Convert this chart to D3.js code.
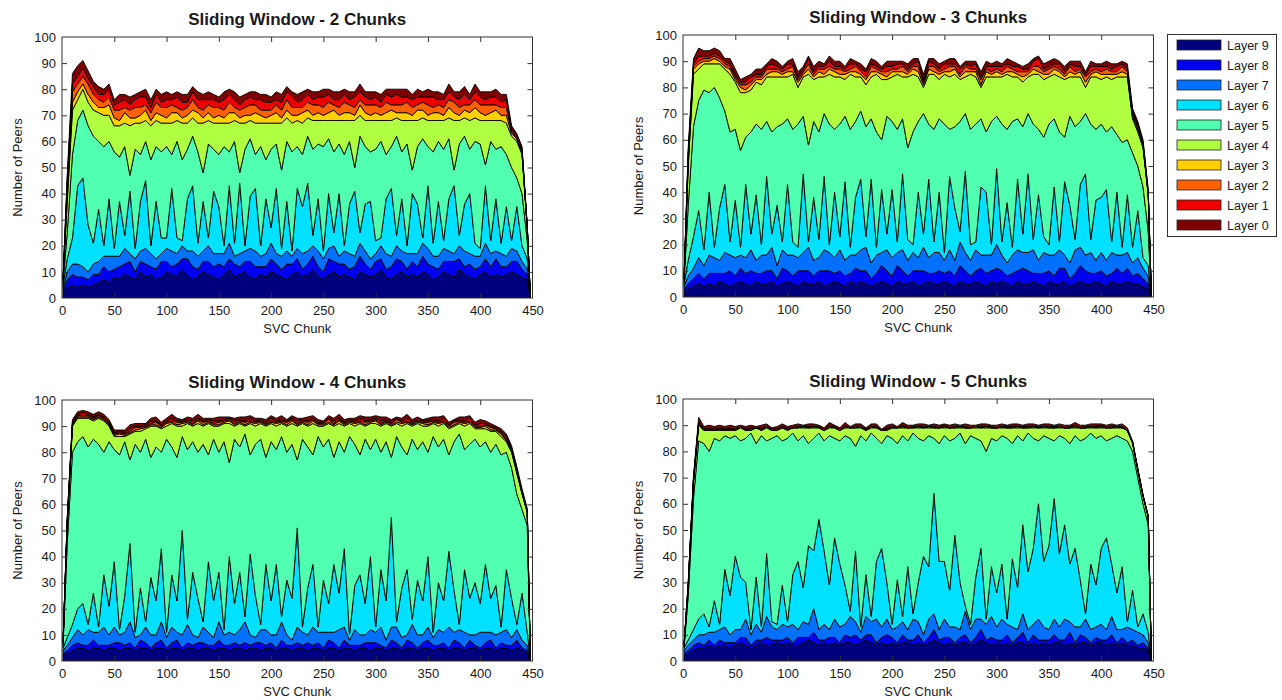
<!DOCTYPE html>
<html>
<head>
<meta charset="utf-8">
<script src="https://cdn.jsdelivr.net/npm/d3@7"></script>
<style>
  body { margin: 0; background: #fff; }
  svg { display: block; }
  text { font-family: "Liberation Sans", Arial, sans-serif; fill: #1a1a1a; }
</style>
</head>
<body>
<svg id="chart" width="1282" height="700"></svg>
<script>
// SVC chunk index of each sample
const chunks = [1,5,10,15,20,25,30,35,40,45,
  50,55,60,65,70,75,80,85,90,95,
  100,105,110,115,120,125,130,135,140,145,
  150,155,160,165,170,175,180,185,190,195,
  200,205,210,215,220,225,230,235,240,245,
  250,255,260,265,270,275,280,285,290,295,
  300,305,310,315,320,325,330,335,340,345,
  350,355,360,365,370,375,380,385,390,395,
  400,405,410,415,420,425,430,435,440,445,448];

const layerNames = ["Layer 9","Layer 8","Layer 7","Layer 6","Layer 5","Layer 4","Layer 3","Layer 2","Layer 1","Layer 0"];
const layerColors = ["#00007f","#0000f0","#0070ff","#00e0ff","#50ffb0","#b0ff40","#ffd000","#ff6000","#ee0000","#7f0000"];
const yTicks = [0,10,20,30,40,50,60,70,80,90,100];
const xTicks = [0,50,100,150,200,250,300,350,400,450];
const panelTitles = ["Sliding Window - 2 Chunks","Sliding Window - 3 Chunks","Sliding Window - 4 Chunks","Sliding Window - 5 Chunks"];

// ---- Sliding window of 2 chunks: peers per layer ----
const win2Layer9 = [2,4,5,4,5,4,5,6,7,6, 8,7,9,8,7,10,8,9,7,8, 10,9,8,11,9,7,8,10,9,8, 7,9,11,8,9,10,8,7,9,8, 10,9,8,7,9,10,8,9,11,8, 7,9,10,8,9,8,7,10,9,8, 9,11,8,7,9,10,8,9,8,10, 9,7,8,10,9,8,11,9,8,7, 9,10,8,9,8,9,10,9,8,7, 0];
const win2Layer8 = [1,3,4,4,3,3,4,3,5,4, 3,5,4,6,3,4,5,3,4,6, 4,3,5,4,6,5,3,4,5,4, 6,3,4,5,3,4,6,5,3,4, 5,4,3,6,4,5,3,4,5,4, 3,6,4,5,4,3,5,6,4,3, 5,4,3,5,6,4,3,5,4,6, 4,5,3,4,5,6,4,3,5,4, 3,5,4,6,4,3,4,5,3,2, 0];
const win2Layer7 = [1,3,4,5,4,3,4,5,4,6, 5,4,6,3,5,4,6,5,4,3, 5,6,4,5,3,6,5,4,6,5, 4,5,6,3,5,4,5,6,4,5, 6,4,5,5,3,4,6,5,4,6, 5,4,6,3,5,6,4,5,5,4, 3,5,6,4,5,4,6,3,5,5, 6,4,5,5,4,3,5,6,4,5, 4,6,5,3,5,4,5,4,3,2, 0];
const win2Layer6 = [1,5,10,30,34,18,8,20,4,22, 3,21,5,24,4,19,26,3,22,6, 4,24,6,2,20,25,5,19,3,24, 18,3,22,5,27,2,20,24,4,21, 6,25,3,19,2,23,18,26,4,20, 3,21,5,24,2,19,25,4,18,22, 5,3,21,26,4,20,3,23,19,2, 24,5,21,3,20,26,4,18,23,5, 3,22,5,20,4,19,3,17,6,4, 0];
const win2Layer5 = [1,10,32,25,26,38,41,26,38,22, 37,17,34,6,38,18,15,33,21,33, 35,13,37,31,19,19,35,11,36,16, 20,38,13,39,4,37,22,13,38,15, 30,17,30,23,38,16,20,18,33,21, 40,21,31,19,35,24,9,37,22,19, 35,37,17,16,38,18,39,9,22,38, 15,35,23,35,23,6,35,26,17,39, 40,8,38,19,37,20,28,11,20,7, 0];
const win2Layer4 = [1,12,17,8,8,9,10,11,12,10, 10,12,9,19,10,12,8,13,10,11, 9,12,8,14,10,7,11,19,9,10, 12,9,11,8,19,10,7,12,9,14, 10,8,18,9,11,10,12,7,11,9, 10,7,12,9,13,8,18,8,10,12, 11,8,13,10,7,12,9,19,10,8, 10,12,8,11,8,19,9,7,11,9, 9,17,8,11,10,12,12,14,15,5, 0];
const win2Layer3 = [0,3,3,3,2,3,3,2,3,4, 3,2,4,3,2,3,4,2,3,3, 2,4,3,2,3,3,4,2,3,2, 3,2,4,3,2,3,2,4,3,2, 3,4,2,3,3,2,4,3,2,3, 2,3,4,2,3,3,2,4,3,2, 3,2,3,4,2,3,3,2,4,3, 2,3,3,2,4,3,2,3,3,4, 3,2,3,4,2,3,1,1,1,0, 0];
const win2Layer2 = [0,3,4,3,3,4,3,3,2,3, 3,4,2,3,4,3,2,3,4,3, 4,3,2,3,3,4,2,3,3,4, 3,3,4,2,3,3,4,3,2,3, 2,3,3,4,3,3,2,3,4,3, 3,4,2,3,4,3,3,2,3,4, 3,3,4,2,3,3,4,3,2,3, 4,2,3,3,3,4,3,2,3,3, 3,4,3,2,3,3,1,0,0,0, 0];
const win2Layer1 = [0,2,3,3,3,2,3,2,3,3, 2,3,3,2,3,4,3,2,3,2, 3,2,4,3,2,3,3,4,2,3, 2,4,3,3,2,3,3,2,4,3, 3,2,3,3,4,2,3,3,2,3, 4,3,2,3,3,2,4,3,3,2, 3,2,3,3,4,3,2,3,3,2, 3,4,2,3,3,2,3,4,2,3, 3,2,3,3,2,3,1,1,1,0, 0];
const win2Layer0 = [0,2,4,4,3,3,2,3,2,2, 2,3,2,3,2,2,3,3,2,3, 3,2,2,3,3,2,3,2,3,2, 2,3,2,3,3,2,2,3,2,3, 2,3,3,2,2,3,3,2,3,2, 3,2,3,3,2,3,2,3,2,3, 2,3,2,3,2,3,3,2,3,2, 3,2,3,2,3,2,3,3,2,3, 2,3,2,3,3,2,1,1,1,1, 0];

// ---- Sliding window of 3 chunks ----
const win3Layer9 = [2,3,4,5,4,5,4,6,5,4, 5,6,5,4,6,5,5,6,4,5, 6,5,4,6,5,5,6,4,5,6, 5,4,6,5,6,5,4,5,6,5, 4,6,5,5,6,4,5,6,5,5, 6,5,4,6,5,5,6,5,4,6, 5,6,5,4,6,5,5,6,5,4, 6,5,5,6,4,5,6,5,5,6, 5,4,6,5,5,6,5,5,4,3, 0];
const win3Layer8 = [1,2,3,4,3,4,5,3,4,6, 3,5,4,6,3,4,5,4,3,6, 4,3,6,4,5,3,4,6,5,3, 5,4,3,6,4,5,3,4,6,5, 4,6,5,3,4,6,5,3,4,5, 3,5,4,6,5,3,4,6,5,4, 6,4,3,5,4,6,5,3,4,5, 4,3,6,5,3,4,6,5,4,3, 5,4,3,6,4,5,3,4,3,2, 0];
const win3Layer7 = [1,3,4,6,5,7,6,5,8,6, 7,5,6,8,5,7,6,9,5,7, 6,8,5,7,9,6,5,8,7,6, 8,6,7,5,8,9,6,7,5,8, 7,5,8,6,7,5,9,6,8,7, 5,8,6,9,7,6,8,5,7,6, 9,6,5,7,8,6,7,9,5,8, 6,8,7,5,6,9,7,6,8,5, 7,6,8,5,7,6,5,6,4,3, 0];
const win3Layer6 = [1,6,12,18,6,24,4,20,26,5, 22,3,28,6,25,4,30,5,23,3, 27,5,4,30,2,24,7,28,3,25, 5,30,3,22,27,4,32,3,24,6, 26,4,29,8,3,25,5,30,4,23, 3,28,20,4,31,6,3,26,24,4, 29,5,23,3,27,7,30,4,25,6, 4,26,3,28,22,4,24,31,5,23, 21,27,4,24,3,22,6,18,4,4, 0];
const win3Layer5 = [1,21,42,42,61,38,61,42,28,42, 27,37,18,39,27,44,21,39,30,45, 25,43,47,22,37,29,41,24,46,24, 43,25,45,29,26,42,23,44,19,45, 26,43,21,35,43,27,46,21,43,28, 49,18,31,42,22,44,45,26,23,47, 20,45,28,48,23,41,23,44,25,38, 46,26,42,17,34,43,24,23,44,27, 28,22,44,22,40,21,36,17,27,13, 0];
const win3Layer4 = [1,15,20,12,10,11,9,13,16,22, 18,22,17,16,16,17,17,21,19,18, 16,21,14,15,27,16,21,14,19,20, 18,14,21,17,13,16,16,22,23,14, 17,21,16,27,22,17,10,19,21,15, 19,20,20,16,14,21,18,12,21,17, 15,18,21,17,16,17,14,19,21,22, 18,17,21,22,15,19,17,10,18,20, 17,21,18,22,25,24,13,13,15,14, 0];
const win3Layer3 = [0,2,2,2,1,1,2,1,1,2, 1,2,1,2,1,2,1,2,2,1, 2,1,2,1,2,1,2,1,2,2, 1,2,1,2,1,2,2,1,2,1, 2,1,2,1,2,2,1,2,1,2, 1,2,2,1,2,1,2,1,2,1, 2,1,1,2,1,2,1,2,1,2, 1,2,2,1,2,1,2,2,1,2, 2,1,2,1,2,1,1,1,1,0, 0];
const win3Layer2 = [0,2,1,1,1,1,1,1,1,1, 1,1,2,1,1,1,2,1,1,1, 1,2,1,1,2,1,1,2,1,1, 2,1,1,2,1,1,2,1,1,2, 1,1,2,1,1,2,1,1,2,1, 1,2,1,1,2,1,1,2,1,1, 1,1,2,1,1,2,1,1,2,1, 2,1,1,1,2,1,1,2,1,1, 1,2,1,1,2,1,1,1,0,0, 0];
const win3Layer1 = [0,1,1,2,1,1,1,1,1,1, 1,1,1,2,1,1,1,2,1,1, 2,1,1,1,2,1,1,1,2,1, 1,1,2,1,1,2,1,1,1,2, 1,2,1,1,1,2,1,2,1,1, 2,1,1,2,1,1,2,1,1,2, 1,2,1,1,2,1,1,2,3,1, 1,1,2,1,1,2,1,1,2,1, 2,1,1,2,1,1,1,1,1,1, 0];
const win3Layer0 = [0,2,2,3,2,2,2,2,1,2, 2,1,2,1,2,2,1,2,2,1, 1,2,2,1,1,2,2,1,2,2, 2,1,2,1,2,1,2,2,1,2, 2,1,1,2,2,1,2,1,2,2, 1,2,2,1,1,2,1,2,2,1, 2,1,2,2,1,1,2,1,1,2, 2,2,1,2,1,2,2,1,2,1, 1,2,2,1,1,2,1,1,1,1, 0];

// ---- Sliding window of 4 chunks ----
const win4Layer9 = [2,3,4,5,5,4,5,5,4,5, 5,4,5,5,4,5,5,4,5,5, 4,5,5,4,5,5,4,5,5,4, 5,5,4,5,5,4,5,5,4,5, 5,4,5,5,4,5,5,4,5,5, 4,5,5,4,5,5,4,5,5,4, 5,5,4,5,5,4,5,5,4,5, 5,4,5,5,4,5,5,4,5,5, 4,5,5,4,5,5,4,5,4,3, 0];
const win4Layer8 = [1,1,2,2,1,2,3,1,2,1, 2,3,1,2,1,3,2,1,2,3, 1,2,3,1,2,1,3,2,1,2, 3,1,2,2,1,3,1,2,3,1, 2,1,3,1,2,2,1,3,1,2, 1,3,2,1,3,1,2,1,2,3, 2,1,1,3,2,1,3,2,1,2, 3,2,1,2,1,3,2,1,3,1, 1,2,3,1,2,1,2,3,1,1, 0];
const win4Layer7 = [1,2,3,5,4,6,3,5,7,4, 6,3,5,8,4,2,6,5,3,7, 4,6,3,5,7,4,2,6,5,3, 7,4,5,3,6,8,4,2,5,6, 3,5,7,4,2,6,5,3,7,4, 6,3,4,7,5,2,6,4,3,5, 4,7,3,5,6,4,2,7,5,3, 5,3,6,4,8,3,5,6,2,4, 6,4,3,5,4,6,3,4,3,2, 0];
const win4Layer6 = [1,3,5,8,12,2,15,2,20,11, 25,2,14,30,2,18,2,22,13,28, 2,20,12,40,2,24,15,2,27,14, 19,2,29,12,22,2,31,16,2,25, 13,27,2,21,16,38,2,18,24,2, 20,11,26,14,30,2,17,23,12,28, 2,22,15,42,2,19,25,2,21,13, 27,2,18,12,29,16,2,24,14,20, 11,26,13,19,2,23,15,2,18,5, 0];
const win4Layer5 = [1,36,66,64,64,68,59,70,47,63, 43,67,59,32,72,52,70,46,59,37, 74,49,55,36,65,50,56,68,41,62, 46,72,36,63,48,70,38,58,71,41, 61,44,69,49,59,26,72,54,42,73, 51,63,41,58,37,76,54,46,63,41, 72,45,61,23,71,54,44,69,50,61, 40,75,52,62,37,57,73,46,59,55, 60,47,56,54,66,45,50,50,32,41, 0];
const win4Layer4 = [1,7,10,9,7,11,7,10,12,6, 5,7,2,10,5,8,4,12,8,9, 5,9,12,4,10,6,11,7,12,5, 10,7,15,5,9,3,12,7,6,12, 7,9,5,10,8,13,6,8,12,4, 8,6,12,7,10,5,7,12,5,10, 6,10,7,12,5,8,12,5,10,6, 10,5,8,6,10,6,4,9,8,4, 7,5,8,5,7,4,6,8,6,5, 0];
const win4Layer3 = [0,1,0.5,0.5,0.5,0.5,0.5,0.5,0.5,0.5, 0.5,1,0.5,0.5,0.5,1,0.5,0.5,0.5,0.5, 1,0.5,0.5,1,0.5,0.5,1,0.5,0.5,0.5, 0.5,0.5,1,0.5,0.5,0.5,0.5,1,0.5,0.5, 0.5,1,0.5,0.5,1,0.5,0.5,0.5,1,0.5, 0.5,0.5,0.5,1,0.5,0.5,1,0.5,0.5,0.5, 1,0.5,0.5,0.5,0.5,1,0.5,0.5,0.5,1, 0.5,0.5,1,0.5,0.5,0.5,0.5,1,0.5,0.5, 0.5,1,0.5,0.5,1,0.5,0.5,0.5,0.5,0, 0];
const win4Layer2 = [0,0.5,0.5,0.5,0.5,0.5,0.5,0.5,0.5,0.5, 0.5,0.5,0.5,0.5,1,0.5,0.5,0.5,1,0.5, 0.5,0.5,1,0.5,0.5,0.5,0.5,1,0.5,0.5, 1,0.5,0.5,0.5,0.5,1,0.5,0.5,0.5,0.5, 0.5,0.5,0.5,1,0.5,0.5,0.5,1,0.5,0.5, 0.5,1,0.5,0.5,0.5,0.5,0.5,0.5,1,0.5, 0.5,0.5,0.5,0.5,1,0.5,0.5,0.5,0.5,0.5, 1,0.5,0.5,0.5,0.5,1,0.5,0.5,0.5,0.5, 0.5,0.5,1,0.5,0.5,0.5,0.5,0.5,0,0, 0];
const win4Layer1 = [0,0.5,0.5,0.5,1,0.5,0.5,0.5,0.5,0.5, 0.5,0.5,0.5,1,0.5,0.5,0.5,1,0.5,0.5, 0.5,1,0.5,0.5,0.5,1,0.5,0.5,0.5,1, 0.5,0.5,0.5,1,0.5,0.5,1,0.5,0.5,0.5, 1,0.5,0.5,0.5,0.5,1,0.5,0.5,0.5,0.5, 0.5,0.5,1,0.5,0.5,0.5,0.5,1,0.5,0.5, 0.5,1,0.5,0.5,0.5,0.5,1,0.5,0.5,0.5, 0.5,0.5,0.5,1,0.5,0.5,0.5,0.5,1,0.5, 1,0.5,0.5,0.5,0.5,1,0.5,0.5,0.5,0.5, 0];
const win4Layer0 = [0,1,1,1,1,1,1,1,1,1, 1,0.5,1,1.5,1,1,0.5,1,1.5,1, 1,1.5,1,0.5,1,1,1.5,1,0.5,1, 1.5,1,0.5,1,1,1.5,1,1,0.5,1, 1,1,1.5,0.5,1,1,0.5,1.5,1,1, 0.5,1,1,1.5,1,0.5,1,1,1.5,1, 1,1.5,1,1,0.5,1,1.5,1,1,0.5, 1,1,1.5,1,1,0.5,1,1.5,1,1, 1.5,1,1,0.5,1,1,1,1,1,1, 0];

// ---- Sliding window of 5 chunks ----
const win5Layer9 = [2,3,4,5,5,6,5,6,6,5, 6,7,6,5,6,7,6,6,7,6, 7,6,6,7,8,7,6,7,6,7, 6,7,7,6,7,8,7,6,7,6, 7,6,7,7,6,7,6,7,8,7, 6,7,6,7,7,6,7,8,7,6, 7,6,7,6,7,7,6,7,6,7, 6,7,7,6,7,6,7,7,6,7, 7,6,7,6,7,6,6,5,5,4, 0];
const win5Layer8 = [1,1,2,2,1,2,1,2,1,2, 1,2,3,1,2,1,3,2,1,2, 2,1,3,2,1,4,2,1,3,2, 1,3,2,4,1,2,3,1,2,4, 2,1,3,1,2,3,1,2,4,1, 3,2,1,2,3,1,2,4,1,3, 1,2,3,1,2,4,1,3,2,1, 2,3,1,2,4,1,3,2,1,2, 1,2,3,1,2,1,2,1,2,1, 0];
const win5Layer7 = [1,2,2,3,4,3,5,4,6,3, 5,3,7,4,6,3,8,5,4,6, 4,7,3,6,5,9,4,6,3,7, 6,4,8,5,3,7,5,9,4,6, 3,6,5,4,8,5,3,7,6,4, 7,4,6,3,9,5,7,4,6,8, 5,8,4,6,3,7,5,4,8,5, 4,6,5,8,4,6,3,7,5,4, 6,4,7,5,3,6,4,5,3,2, 0];
const win5Layer6 = [1,2,4,6,8,2,12,2,22,15, 28,20,14,2,18,2,24,2,2,15, 2,19,26,13,30,22,42,28,17,31, 24,15,2,27,2,16,2,22,30,14, 2,18,2,24,2,15,30,20,46,26, 22,14,35,18,2,2,16,27,2,19, 13,21,2,26,16,34,22,29,44,25, 32,46,28,36,22,30,18,2,25,16, 29,35,20,14,24,2,15,2,8,4, 0];
const win5Layer5 = [0,17,50,68,65,67,62,70,51,60, 46,52,55,75,51,73,43,70,72,55, 70,54,46,58,39,43,33,42,57,38, 47,57,66,40,73,51,70,47,40,56, 71,52,69,48,69,55,44,50,21,45, 48,57,37,57,62,72,53,41,64,49, 58,49,69,44,58,32,53,42,24,48, 41,22,45,33,46,43,53,67,50,56, 43,37,48,60,49,69,53,57,42,41, 0];
const win5Layer4 = [1,3,6,6,5,8,3,4,2,3, 2,5,3,1,6,2,5,3,2,5, 3,2,5,3,6,4,2,4,3,4, 4,3,4,7,3,4,2,4,5,2, 4,6,3,5,2,4,5,3,4,6, 3,5,4,2,6,3,4,5,9,4, 5,3,4,6,3,5,2,4,5,3, 4,5,3,4,6,3,5,4,2,4, 3,5,4,3,4,4,3,3,3,3, 0];
const win5Layer3 = [0,0.5,0.5,0.5,0,0.5,0,0.5,0,0.5, 0,0.5,0,0.5,0,0,0.5,0,0.5,0, 0.5,0,0,0.5,0,0.5,0,0,0.5,0, 0,0.5,0,0,0.5,0,0.5,0,0,0.5, 0,0,0.5,0,0,0.5,0,0.5,0,0, 0.5,0,0,0.5,0,0,0.5,0,0.5,0, 0,0.5,0,0,0.5,0,0,0.5,0,0.5, 0,0,0.5,0,0,0.5,0,0,0.5,0, 0.5,0,0,0.5,0,0,0.5,0,0,0, 0];
const win5Layer2 = [0,0.5,0.5,0.5,0.5,0,0.5,0,0.5,0, 0.5,0,0,0.5,0,0.5,0,0,0,0.5, 0,0,0.5,0,0,0,0.5,0,0,0.5, 0,0,0,0.5,0,0,0,0.5,0,0, 0.5,0,0,0,0.5,0,0,0,0.5,0, 0,0,0.5,0,0,0,0,0.5,0,0, 0,0,0,0.5,0,0,0.5,0,0,0, 0.5,0,0,0,0,0.5,0,0,0,0.5, 0,0,0.5,0,0,0,0,0,0,0, 0];
const win5Layer1 = [0,0.5,0.5,0.5,0,0.5,0,0.5,0,0.5, 0,0,0.5,0,0,0.5,0,0.5,0,0, 0.5,0,0,0,0.5,0,0,0,0.5,0, 0,0.5,0,0,0,0.5,0,0,0,0.5, 0,0,0.5,0,0,0,0.5,0,0,0, 0.5,0,0,0,0.5,0,0,0,0,0.5, 0,0,0.5,0,0,0.5,0,0,0.5,0, 0,0.5,0,0,0.5,0,0,0.5,0,0, 0.5,0,0,0,0.5,0,0,0,0,0, 0];
const win5Layer0 = [0,0.5,1,1.5,1,1,1,1,1,1, 1,0.5,1,1,0.5,1,1,0.5,1,1, 0.5,1,1,0.5,1,1,0.5,1,1,0.5, 1,1,0.5,1,1,0.5,1,1,0.5,1, 1,0.5,1,1,0.5,1,1,0.5,1,1, 0.5,1,1,0.5,1,1,0.5,1,1,0.5, 1,1,0.5,1,1,0.5,1,1,0.5,1, 1,0.5,1,1,0.5,1,1,0.5,1,1, 0.5,1,1,0.5,1,1,0.5,0.5,0.5,0.5, 0];

// Layers of each panel, ordered bottom (Layer 9) to top (Layer 0)
const panelLayers = [
  [win2Layer9,win2Layer8,win2Layer7,win2Layer6,win2Layer5,win2Layer4,win2Layer3,win2Layer2,win2Layer1,win2Layer0],
  [win3Layer9,win3Layer8,win3Layer7,win3Layer6,win3Layer5,win3Layer4,win3Layer3,win3Layer2,win3Layer1,win3Layer0],
  [win4Layer9,win4Layer8,win4Layer7,win4Layer6,win4Layer5,win4Layer4,win4Layer3,win4Layer2,win4Layer1,win4Layer0],
  [win5Layer9,win5Layer8,win5Layer7,win5Layer6,win5Layer5,win5Layer4,win5Layer3,win5Layer2,win5Layer1,win5Layer0]
];

// Plot frames (pixel boxes of the four axes)
const frames = [
  {left: 62,  right: 532.5,  top: 37,  bottom: 298},
  {left: 683, right: 1153.5, top: 35,  bottom: 297},
  {left: 62,  right: 532.5,  top: 400, bottom: 661},
  {left: 683, right: 1153.5, top: 399, bottom: 661}
];

const svg = d3.select("#chart");
const axisColor = "#333";
const fontStack = "'Liberation Sans', Arial, sans-serif";

frames.forEach((f, pi) => {
  const x = d3.scaleLinear().domain([0, 450]).range([f.left, f.right]);
  const y = d3.scaleLinear().domain([0, 100]).range([f.bottom, f.top]);
  const layers = panelLayers[pi];

  const rows = chunks.map((c, i) => {
    const r = {chunk: c};
    layerNames.forEach((name, k) => { r[name] = layers[k][i]; });
    return r;
  });
  const series = d3.stack().keys(layerNames)(rows);

  const area = d3.area()
    .x(d => x(d.data.chunk))
    .y0(d => y(d[0]))
    .y1(d => y(d[1]));

  const g = svg.append("g");
  const clipId = "clip" + pi;
  g.append("clipPath").attr("id", clipId)
    .append("rect")
    .attr("x", f.left).attr("y", f.top)
    .attr("width", f.right - f.left).attr("height", f.bottom - f.top);

  g.append("g").attr("clip-path", `url(#${clipId})`)
    .selectAll("path")
    .data(series)
    .join("path")
    .attr("d", area)
    .attr("fill", (d, i) => layerColors[i])
    .attr("stroke", "#000")
    .attr("stroke-width", 0.9)
    .attr("stroke-linejoin", "miter");

  // Axes: inward ticks on all four sides, labels on left and bottom
  const left = g.append("g").attr("transform", `translate(${f.left},0)`)
    .call(d3.axisLeft(y).tickValues(yTicks).tickSizeInner(-5).tickSizeOuter(0).tickPadding(6));
  const right = g.append("g").attr("transform", `translate(${f.right},0)`)
    .call(d3.axisRight(y).tickValues(yTicks.slice(1, -1)).tickSizeInner(-5).tickSizeOuter(0).tickFormat(""));
  const bottom = g.append("g").attr("transform", `translate(0,${f.bottom})`)
    .call(d3.axisBottom(x).tickValues(xTicks).tickSizeInner(-5).tickSizeOuter(0).tickPadding(8));
  const top = g.append("g").attr("transform", `translate(0,${f.top})`)
    .call(d3.axisTop(x).tickValues(xTicks.slice(1, -1)).tickSizeInner(-5).tickSizeOuter(0).tickFormat(""));

  [left, right, bottom, top].forEach(a => {
    a.select(".domain").remove();
    a.selectAll("line").attr("stroke", axisColor);
    a.selectAll("text").attr("font-size", 13).attr("fill", "#1a1a1a").attr("font-family", fontStack);
  });
  left.selectAll(".tick line").filter(d => d === 0 || d === 100).remove();
  bottom.selectAll(".tick line").filter(d => d === 0 || d === 450).remove();

  g.append("rect")
    .attr("x", f.left).attr("y", f.top)
    .attr("width", f.right - f.left).attr("height", f.bottom - f.top)
    .attr("fill", "none").attr("stroke", axisColor).attr("stroke-width", 1);

  // Title and axis labels
  g.append("text")
    .attr("x", (f.left + f.right) / 2).attr("y", f.top - 12)
    .attr("text-anchor", "middle").attr("font-size", 17).attr("font-weight", "bold")
    .text(panelTitles[pi]);
  g.append("text")
    .attr("x", (f.left + f.right) / 2).attr("y", f.bottom + 35)
    .attr("text-anchor", "middle").attr("font-size", 13)
    .text("SVC Chunk");
  g.append("text")
    .attr("transform", `translate(${f.left - 40},${(f.top + f.bottom) / 2}) rotate(-90)`)
    .attr("text-anchor", "middle").attr("font-size", 13)
    .text("Number of Peers");
});

// Legend, listing layers from 9 down to 0
const legend = svg.append("g");
legend.append("rect")
  .attr("x", 1167.5).attr("y", 34.5).attr("width", 109).attr("height", 202)
  .attr("fill", "#fff").attr("stroke", "#333").attr("stroke-width", 1);
const items = legend.selectAll("g.item")
  .data(layerNames)
  .join("g")
  .attr("transform", (d, i) => `translate(0,${45 + i * 20})`);
items.append("rect")
  .attr("x", 1177).attr("y", -5).attr("width", 44).attr("height", 10)
  .attr("fill", (d, i) => layerColors[i]).attr("stroke", "#222").attr("stroke-width", 0.8);
items.append("text")
  .attr("x", 1227).attr("y", 4.5).attr("font-size", 12.5)
  .text(d => d);
</script>
</body>
</html>
